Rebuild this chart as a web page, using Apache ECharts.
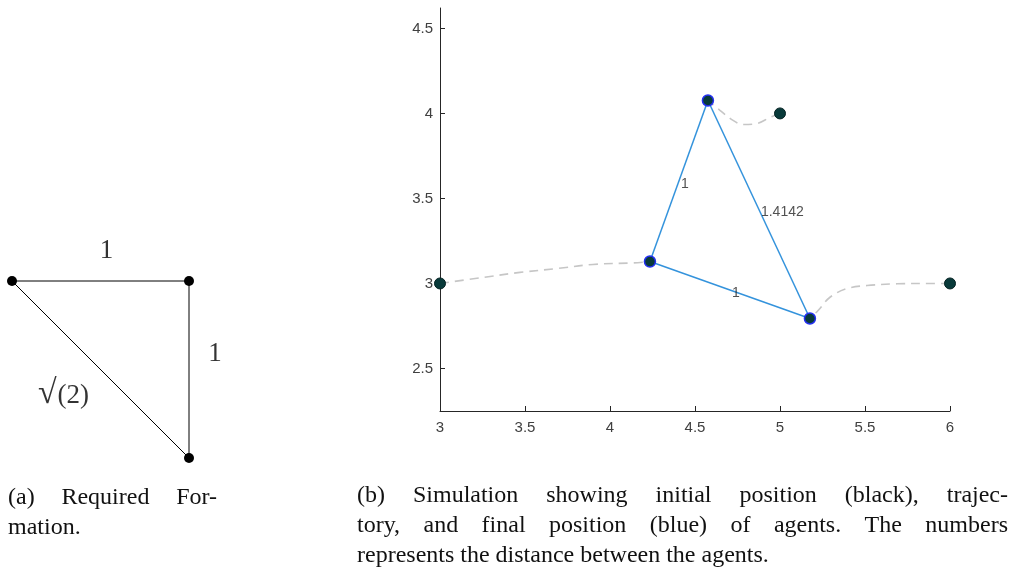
<!DOCTYPE html>
<html>
<head>
<meta charset="utf-8">
<script src="https://cdn.jsdelivr.net/npm/echarts@6/dist/echarts.min.js"></script>
<style>
  html, body { margin: 0; padding: 0; background: #fff; }
  #chart { width: 1022px; height: 577px; }
</style>
</head>
<body>
<div id="chart"></div>
<script>
// ---- (a) required formation: unit legs and a sqrt(2) hypotenuse ----
const formationNodes = [[0, 1], [1, 1], [1, 0]];
const formationEdges = [[0, 1], [1, 2], [2, 0]];
const formationEdgeText = ['1', '1', '{r|√}{p|(2)}'];

// ---- (b) simulation: start points, paths and final formation ----
const initialPositions = [[3, 3], [5, 4], [6, 3]];
const finalPositions = [[4.235, 3.129], [4.576, 4.076], [5.176, 2.794]];
const trajectoryAgent1 = [[3, 3], [3.25, 3.035], [3.47, 3.065], [3.69, 3.088], [3.9, 3.112], [4.14, 3.121], [4.235, 3.129]];
const trajectoryAgent2 = [[5, 4], [4.94, 3.976], [4.865, 3.941], [4.782, 3.935], [4.724, 3.959], [4.647, 4.018], [4.576, 4.076]];
const trajectoryAgent3 = [[6, 3], [5.882, 3], [5.688, 2.998], [5.512, 2.988], [5.394, 2.97], [5.294, 2.919], [5.224, 2.841], [5.176, 2.794]];
const distanceEdges = [[0, 1], [1, 2], [0, 2]];
const distanceText = ['1', '1.4142', '1'];

const xTicks = [3, 3.5, 4, 4.5, 5, 5.5, 6];
const yTicks = [2.5, 3, 3.5, 4, 4.5];

const captionA = ['(a) Required For-', 'mation.'];
const captionB = [
  '(b) Simulation showing initial position (black), trajec-',
  'tory, and final position (blue) of agents.  The numbers',
  'represents the distance between the agents.'
];

// ---- styling / layout ----
const SERIF = '"Liberation Serif", "DejaVu Serif", serif';
const SANS = '"Liberation Sans", Arial, sans-serif';
const formationLabelOffsets = [[6, -30], [26, -16], [-37, 26]];
const CAP_SIZE = 24;

const midpoint = (p, q) => [(p[0] + q[0]) / 2, (p[1] + q[1]) / 2];

const series = [];

// (a) triangle legs
series.push({
  type: 'line', xAxisIndex: 0, yAxisIndex: 0, clip: false,
  data: formationEdges.flatMap(([i, j], k) => k === 0 ? [formationNodes[i], formationNodes[j]] : [formationNodes[j]]),
  showSymbol: false, lineStyle: { color: '#000', width: 1 }, silent: true, z: 2
});
series.push({
  type: 'scatter', xAxisIndex: 0, yAxisIndex: 0, clip: false,
  data: formationNodes, symbolSize: 10, itemStyle: { color: '#000', opacity: 1 }, silent: true, z: 3
});
series.push({
  type: 'scatter', xAxisIndex: 0, yAxisIndex: 0, clip: false,
  data: formationEdges.map(([i, j], k) => ({
    value: midpoint(formationNodes[i], formationNodes[j]),
    label: { show: true, formatter: formationEdgeText[k], offset: formationLabelOffsets[k] }
  })),
  symbolSize: 0,
  label: {
    position: 'inside', color: '#000', fontFamily: SERIF, fontSize: 27,
    rich: {
      r: { fontFamily: SERIF, fontSize: 34, color: '#000', padding: [0, 1, 2, 0] },
      p: { fontFamily: SERIF, fontSize: 27, color: '#000' }
    }
  },
  silent: true, z: 4
});

// (b) trajectories
[trajectoryAgent1, trajectoryAgent2, trajectoryAgent3].forEach(path => {
  series.push({
    type: 'line', xAxisIndex: 1, yAxisIndex: 1, clip: false,
    data: path, smooth: 0.35, showSymbol: false, silent: true,
    lineStyle: { color: '#c6c6c6', width: 1.6, type: [9, 6] }, z: 1
  });
});

// (b) final formation edges
distanceEdges.forEach(([i, j]) => {
  series.push({
    type: 'line', xAxisIndex: 1, yAxisIndex: 1, clip: false,
    data: [finalPositions[i], finalPositions[j]], showSymbol: false, silent: true,
    lineStyle: { color: '#3493dc', width: 1.5 }, z: 2
  });
});

// (b) distance labels at edge midpoints
series.push({
  type: 'scatter', xAxisIndex: 1, yAxisIndex: 1, clip: false,
  data: distanceEdges.map(([i, j], k) => ({
    value: midpoint(finalPositions[i], finalPositions[j]),
    label: { formatter: distanceText[k] }
  })),
  symbolSize: 0,
  label: { show: true, position: 'right', distance: 2, offset: [0, 3], color: '#262626', fontFamily: SANS, fontSize: 14 },
  silent: true, z: 5
});

// (b) agent markers
series.push({
  type: 'scatter', xAxisIndex: 1, yAxisIndex: 1, clip: false,
  data: initialPositions, symbolSize: 11, silent: true,
  itemStyle: { color: '#083a3a', borderColor: '#052222', borderWidth: 1, opacity: 1 }, z: 3
});
series.push({
  type: 'scatter', xAxisIndex: 1, yAxisIndex: 1, clip: false,
  data: finalPositions, symbolSize: 11, silent: true,
  itemStyle: { color: '#083a3a', borderColor: '#2430f0', borderWidth: 1.5, opacity: 1 }, z: 4
});

// captions, justified line by line
const measureCtx = document.createElement('canvas').getContext('2d');
const captionFont = `${CAP_SIZE}px ${SERIF}`;
function captionLine(text, x, y, width, justify) {
  measureCtx.font = captionFont;
  const style = { font: captionFont, fill: '#111', verticalAlign: 'middle', align: 'left' };
  if (!justify) return [{ type: 'text', x, y, style: Object.assign({ text }, style), silent: true }];
  const words = text.split(/\s+/);
  const widths = words.map(w => measureCtx.measureText(w).width);
  const total = widths.reduce((a, b) => a + b, 0);
  const gap = (width - total) / (words.length - 1);
  let cx = x;
  return words.map((w, k) => {
    const el = { type: 'text', x: cx, y, style: Object.assign({ text: w }, style), silent: true };
    cx += widths[k] + gap;
    return el;
  });
}
const graphics = [
  ...captionLine(captionA[0], 8, 498, 209, true),
  ...captionLine(captionA[1], 8, 528, 209, false),
  ...captionLine(captionB[0], 357, 496, 651, true),
  ...captionLine(captionB[1], 357, 526, 651, true),
  ...captionLine(captionB[2], 357, 556, 651, false)
];

const axisColor = '#262626';
const option = {
  animation: false,
  backgroundColor: '#fff',
  grid: [
    { left: 12, top: 281, width: 177, height: 177 },
    { left: 440, top: 8, width: 510, height: 403 }
  ],
  xAxis: [
    { gridIndex: 0, type: 'value', min: 0, max: 1, show: false },
    {
      gridIndex: 1, type: 'value', min: xTicks[0], max: xTicks[xTicks.length - 1], interval: 0.5,
      axisLine: { show: true, onZero: false, lineStyle: { color: axisColor, width: 1 } },
      axisTick: { show: true, inside: true, length: 5, lineStyle: { color: axisColor } },
      axisLabel: { color: '#404040', fontFamily: SANS, fontSize: 15, margin: 9, showMinLabel: true, showMaxLabel: true },
      splitLine: { show: false }
    }
  ],
  yAxis: [
    { gridIndex: 0, type: 'value', min: 0, max: 1, show: false },
    {
      gridIndex: 1, type: 'value', min: 2.25, max: 4.62,
      axisLine: { show: true, onZero: false, lineStyle: { color: axisColor, width: 1 } },
      axisTick: { show: true, inside: true, length: 5, customValues: yTicks, lineStyle: { color: axisColor } },
      axisLabel: { color: '#404040', fontFamily: SANS, fontSize: 15, margin: 7, customValues: yTicks },
      splitLine: { show: false }
    }
  ],
  series,
  graphic: graphics
};

const chart = echarts.init(document.getElementById('chart'), null, { renderer: 'canvas' });
chart.setOption(option);
</script>
</body>
</html>
